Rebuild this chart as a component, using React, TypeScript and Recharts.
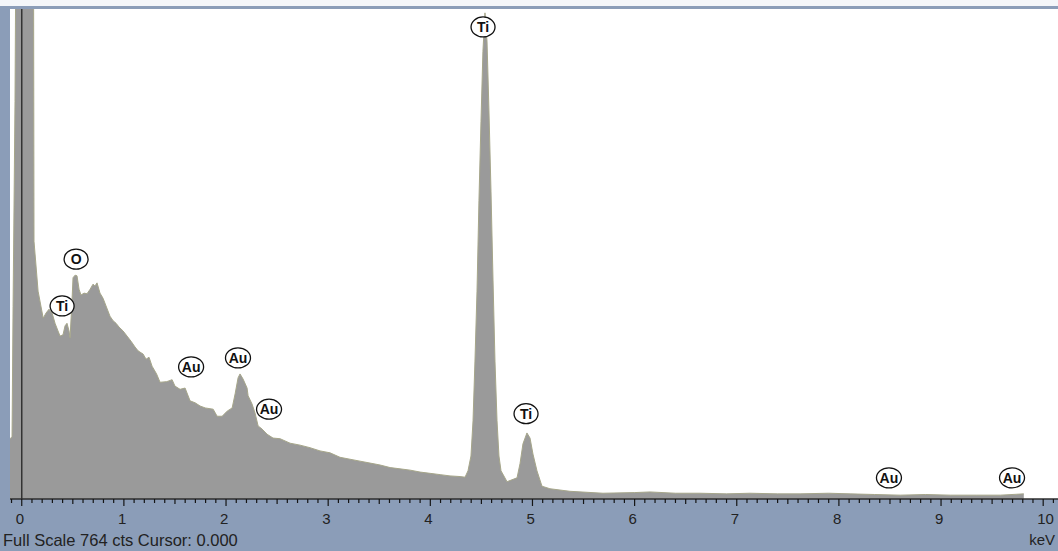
import { ComposedChart, Area, Scatter, XAxis, YAxis, CartesianGrid, ReferenceLine } from 'recharts';

// EDS spectrum (keV / counts)
const energy = [
  -0.115, -0.095, -0.085, -0.066, -0.046, 0.0, 0.08, 0.11, 0.12, 0.16, 0.21, 0.238, 0.267, 0.297, 0.326,
  0.355, 0.375, 0.404, 0.424, 0.443, 0.463, 0.473, 0.492, 0.502, 0.522, 0.541, 0.561, 0.58, 0.61, 0.639,
  0.669, 0.698, 0.717, 0.737, 0.766, 0.796, 0.825, 0.864, 0.894, 0.923, 0.953, 0.992, 1.031, 1.07, 1.109,
  1.139, 1.168, 1.188, 1.217, 1.246, 1.276, 1.32, 1.354, 1.42, 1.472, 1.5, 1.55, 1.599, 1.648, 1.697,
  1.746, 1.796, 1.874, 1.913, 1.962, 2.011, 2.06, 2.089, 2.118, 2.137, 2.167, 2.206, 2.216, 2.255, 2.284,
  2.314, 2.353, 2.402, 2.46, 2.529, 2.627, 2.724, 2.822, 2.92, 3.018, 3.116, 3.214, 3.312, 3.41, 3.508,
  3.606, 3.704, 3.802, 3.9, 3.998, 4.096, 4.193, 4.291, 4.34, 4.369, 4.398, 4.418, 4.437, 4.457, 4.476,
  4.496, 4.515, 4.535, 4.555, 4.574, 4.594, 4.614, 4.633, 4.653, 4.672, 4.692, 4.751, 4.849, 4.878, 4.907,
  4.946, 4.976, 5.005, 5.044, 5.093, 5.171, 5.367, 5.69, 6.0, 6.151, 6.4, 6.64, 6.9, 7.13, 7.4,
  7.62, 7.9, 8.11, 8.35, 8.6, 8.85, 9.09, 9.35, 9.58, 9.81,
];
const counts = [
  94, 97, 300, 620, 1200, 1500, 1500, 1400, 402, 324, 282, 290, 296, 290, 274,
  262, 254, 256, 270, 274, 262, 251, 309, 345, 349, 348, 327, 318, 321, 320,
  327, 335, 332, 337, 321, 313, 301, 285, 278, 274, 268, 262, 254, 246, 237,
  231, 228, 226, 218, 221, 207, 195, 182, 183, 186, 176, 171, 173, 153, 150,
  145, 142, 140, 129, 129, 137, 142, 164, 189, 195, 187, 173, 161, 148, 134,
  114, 109, 101, 95, 94, 87, 84, 80, 75, 72, 65, 62, 59, 56, 53,
  49, 47, 45, 42, 40, 38, 36, 35, 34, 44, 67, 122, 215, 324, 465,
  589, 698, 758, 714, 605, 480, 340, 215, 122, 67, 44, 27, 33, 55, 86,
  103, 95, 70, 44, 20, 16, 12, 9, 10, 11, 9, 9, 8, 9, 8,
  8, 9, 8, 7, 6, 7, 6, 6, 6, 8,
];

// element markers
const markerLabels = ['Ti', 'O', 'Au', 'Au', 'Au', 'Ti', 'Ti', 'Au', 'Au'];
const markerEnergy = [0.395, 0.532, 1.658, 2.117, 2.421, 4.516, 4.937, 8.49, 9.695];
const markerCounts = [301, 374, 206, 220, 140, 736, 133, 33, 33];

const tickLabels = ['0', '1', '2', '3', '4', '5', '6', '7', '8', '9', '10'];

const FULL_SCALE = 764;
const FRAME = '#8b9db8';
const FONT = "'Liberation Sans', Arial, sans-serif";

const spectrum = energy.map((e, i) => ({ e, c: counts[i] }));
const markers = markerLabels.map((label, i) => ({ e: markerEnergy[i], c: markerCounts[i], label }));
// 0.1 keV minor ticks from -0.1 to 10.1
const axisTicks = Array.from({ length: 103 }, (_, i) => Math.round((i - 1) * 10) / 100);

function EnergyTick(props: any) {
  const { x, y, payload } = props;
  const v = payload.value as number;
  const whole = Math.abs(v - Math.round(v)) < 1e-6;
  const half = Math.abs(v * 2 - Math.round(v * 2)) < 1e-6;
  const len = whole ? 7 : half ? 5 : 4;
  const label = whole ? tickLabels[Math.round(v)] : undefined;
  return (
    <g>
      <line x1={x} x2={x} y1={y} y2={y + len} stroke="#151515" strokeWidth={1.2} />
      {label !== undefined && (
        <text x={x - 6} y={y + 25} fontSize={15} fill="#222" fontFamily={FONT}>
          {label}
        </text>
      )}
    </g>
  );
}

function ElementMarker(props: any) {
  const { cx, cy, payload } = props;
  const rx = payload.label === 'Au' ? 12.5 : 12;
  return (
    <g>
      <ellipse cx={cx} cy={cy} rx={rx} ry={10} fill="#fff" stroke="#111" strokeWidth={1.3} />
      <text x={cx} y={cy + 5} textAnchor="middle" fontSize={14} fontWeight="bold" fill="#111" fontFamily={FONT}>
        {payload.label}
      </text>
    </g>
  );
}

export default function App() {
  return (
    <div style={{ position: 'relative', width: 1058, height: 551, background: FRAME, overflow: 'hidden' }}>
      <style>{'body{margin:0}'}</style>
      <div style={{ position: 'absolute', left: 0, top: 0, width: 1058, height: 6, background: '#f4f6f9' }} />
      <ComposedChart width={1058} height={551} data={spectrum} margin={{ top: 9, right: 0, bottom: 22, left: 10 }}>
        <CartesianGrid fill="#ffffff" horizontal={false} vertical={false} />
        <XAxis
          dataKey="e"
          type="number"
          domain={[-0.115, 10.145]}
          allowDataOverflow
          ticks={axisTicks}
          interval={0}
          tickSize={0}
          tickMargin={0}
          height={30}
          tick={<EnergyTick />}
          axisLine={{ stroke: '#2e2e2e', strokeWidth: 1.5 }}
        />
        <YAxis hide domain={[0, FULL_SCALE]} allowDataOverflow />
        <Area
          type="linear"
          dataKey="c"
          fill="#9a9a9a"
          fillOpacity={1}
          stroke="#a6a68a"
          strokeWidth={1}
          isAnimationActive={false}
        />
        <ReferenceLine x={0} stroke="#333" strokeWidth={1.5} />
        <Scatter data={markers} dataKey="c" shape={<ElementMarker />} isAnimationActive={false} />
      </ComposedChart>
      <div style={{ position: 'absolute', left: 3, top: 531, fontSize: 16.5, color: '#222', fontFamily: FONT }}>
        Full Scale {FULL_SCALE} cts Cursor: 0.000
      </div>
      <div style={{ position: 'absolute', right: 3, top: 531, fontSize: 15, color: '#222', fontFamily: FONT }}>
        keV
      </div>
    </div>
  );
}
